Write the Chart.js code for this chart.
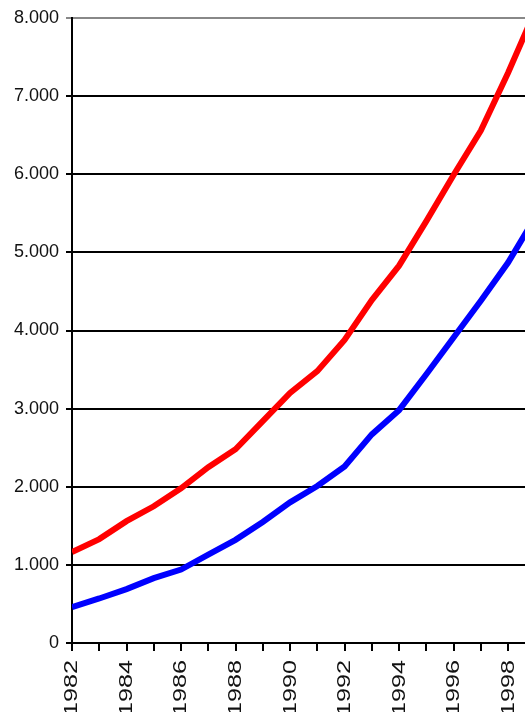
<!DOCTYPE html>
<html>
<head>
<meta charset="utf-8">
<script src="https://cdn.jsdelivr.net/npm/chart.js@4"></script>
<style>
  html, body { margin: 0; padding: 0; background: #fff; overflow: hidden; }
  #wrap { width: 525px; height: 712px; }
</style>
</head>
<body>
<div id="wrap"><canvas id="myChart" width="525" height="712"></canvas></div>
<script>
// years on the x axis
var years = [1982, 1983, 1984, 1985, 1986, 1987, 1988, 1989, 1990,
  1991, 1992, 1993, 1994, 1995, 1996, 1997, 1998, 1999];

// upper (red) series
var redValues = [1165, 1330, 1560, 1750, 1980, 2250, 2480, 2840, 3200,
  3480, 3880, 4390, 4830, 5400, 5990, 6560, 7300, 8100];

// lower (blue) series
var blueValues = [460, 570, 690, 830, 940, 1130, 1320, 1550, 1800,
  2010, 2260, 2670, 2980, 3440, 3910, 4380, 4870, 5450];

var yTicks = [0, 1000, 2000, 3000, 4000, 5000, 6000, 7000, 8000];

function toPoints(values) {
  return values.map(function (v, i) {
    return { x: years[i], y: v };
  });
}

// 1.000 style labels
function fmt(v) {
  if (v === 0) return "0";
  var s = String(v);
  return s.slice(0, s.length - 3) + "." + s.slice(s.length - 3);
}

// year labels, rotated and a bit stretched like the original
var yearLabels = {
  id: "yearLabels",
  afterDraw: function (chart) {
    var scale = chart.scales.x;
    var c = chart.ctx;
    c.save();
    c.font = "18px 'Liberation Sans', Arial";
    c.fillStyle = "#111";
    c.textAlign = "right";
    c.textBaseline = "middle";
    scale.ticks.forEach(function (t) {
      if (t.value % 2 !== 0) return;
      var x = scale.getPixelForValue(t.value);
      c.save();
      c.translate(x + 0.5, 660);
      c.rotate(-Math.PI / 2);
      c.scale(1.4, 1);
      c.fillText(String(t.value), 0, 0);
      c.restore();
    });
    c.restore();
  },
};

var ctx = document.getElementById("myChart").getContext("2d");

var chart = new Chart(ctx, {
  type: "line",
  data: {
    datasets: [
      {
        data: toPoints(redValues),
        borderColor: "#ff0000",
        borderWidth: 6,
        pointRadius: 0,
        tension: 0,
      },
      {
        data: toPoints(blueValues),
        borderColor: "#0000ff",
        borderWidth: 6,
        pointRadius: 0,
        tension: 0,
      },
    ],
  },
  plugins: [yearLabels],
  options: {
    responsive: false,
    animation: false,
    layout: { padding: { top: 18, left: 0, right: 0, bottom: 0 } },
    plugins: {
      legend: { display: false },
      tooltip: { enabled: false },
    },
    scales: {
      x: {
        type: "linear",
        min: 1982,
        max: 1998.62,
        afterFit: function (scale) {
          scale.height = 69;
          scale.paddingLeft = 0;
          scale.paddingRight = 0;
        },
        border: { color: "#000", width: 2 },
        grid: {
          drawOnChartArea: false,
          drawTicks: true,
          tickLength: 8,
          color: "#000",
          lineWidth: 2,
        },
        ticks: {
          display: false,
          stepSize: 1,
          includeBounds: false,
          autoSkip: false,
        },
      },
      y: {
        min: 0,
        max: 8000,
        afterFit: function (scale) {
          scale.width = 72;
        },
        afterBuildTicks: function (scale) {
          scale.ticks = yTicks.map(function (v) {
            return { value: v };
          });
        },
        border: { color: "#000", width: 2 },
        grid: {
          color: function (c) {
            return c.tick && c.tick.value === 8000 ? "#888" : "#000";
          },
          lineWidth: 2,
          tickLength: 6,
        },
        ticks: {
          padding: 7,
          color: "#111",
          font: { family: "'Liberation Sans', Arial", size: 18 },
          callback: function (value) {
            return fmt(value);
          },
        },
      },
    },
  },
});
</script>
</body>
</html>
